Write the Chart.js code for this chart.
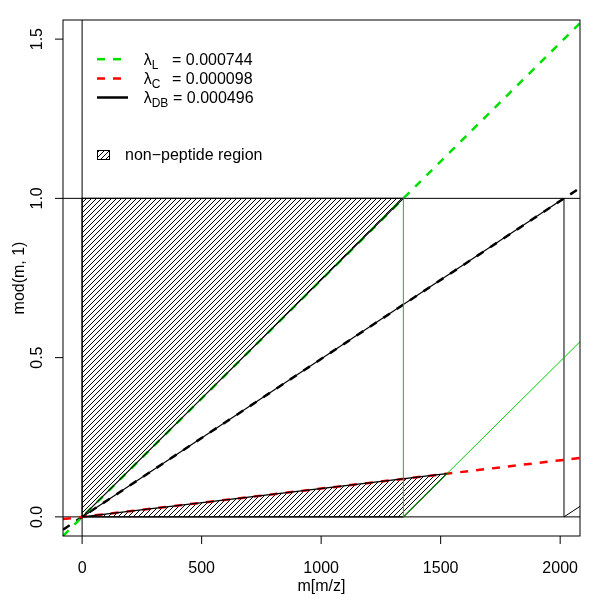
<!DOCTYPE html>
<html>
<head>
<meta charset="utf-8">
<script src="https://cdn.jsdelivr.net/npm/chart.js@4.4.1/dist/chart.umd.min.js"></script>
<style>
  html, body { margin: 0; padding: 0; background: #fff; }
  #wrap { width: 600px; height: 600px; }
</style>
</head>
<body>
<div id="wrap"><canvas id="modChart"></canvas></div>
<script>
var xLimits = [-80, 2083];
var yLimits = [-0.06, 1.56];
var xTicks = [0, 500, 1000, 1500, 2000];
var yTicks = [0, 0.5, 1, 1.5];
var yTickLabels = ['0.0', '0.5', '1.0', '1.5'];

// line end points, [x, y]
var lineL = [[-80, -0.060], [2083, 1.550]];
var lineC = [[-80, -0.007], [2083, 0.185]];
var lineDBdashed = [[-80, -0.040], [2083, 1.033]];
var lineDB = [[0, 0], [2016, 1]];
var dropL = [[1344, 0], [1344, 1]];
var restartL = [[1344, 0], [2083, 0.550]];
var dropDB = [[2016, 0], [2016, 1]];
var restartDB = [[2016, 0], [2083, 0.033]];
var regionUpper = [[0, 0], [0, 1], [1344, 1], [0, 0]];
var regionLower = [[0, 0], [1344, 0], [1526, 0.136], [0, 0]];
var hLines = [0, 1];
var vLines = [0];

var legendSubs = ['L', 'C', 'DB'];
var legendValues = ['0.000744', '0.000098', '0.000496'];
var legendColors = ['#00e000', '#ff0000', '#000000'];
var legendDashed = [true, true, false];

var FONT = '"Liberation Sans", Arial, Helvetica, sans-serif';

function pts(arr) {
    return arr.map(function (p) { return { x: p[0], y: p[1] }; });
}

function makeHatch() {
    var s = 5;
    var c = document.createElement('canvas');
    c.width = s; c.height = s;
    var g = c.getContext('2d');
    g.strokeStyle = '#000';
    g.lineWidth = 1;
    g.beginPath();
    g.moveTo(0, s); g.lineTo(s, 0);
    g.moveTo(-1, 1); g.lineTo(1, -1);
    g.moveTo(s - 1, s + 1); g.lineTo(s + 1, s - 1);
    g.stroke();
    return g.createPattern(c, 'repeat');
}
var hatch = makeHatch();

function seg(arr, color, width, dashed, order) {
    return {
        data: pts(arr),
        showLine: true,
        borderColor: color,
        borderWidth: width,
        borderDash: dashed ? [8, 8] : [],
        pointRadius: 0,
        fill: false,
        tension: 0,
        order: order
    };
}

var datasets = [];
// hatched fills at the bottom
[regionUpper, regionLower].forEach(function (r) {
    datasets.push({
        data: pts(r), showLine: true, borderColor: 'rgba(0,0,0,0)', borderWidth: 0,
        backgroundColor: hatch, fill: 'shape', pointRadius: 0, order: 10
    });
});
hLines.forEach(function (v) {
    datasets.push(seg([[xLimits[0], v], [xLimits[1], v]], '#000', 1, false, 8));
});
vLines.forEach(function (v) {
    datasets.push(seg([[v, yLimits[0]], [v, yLimits[1]]], '#000', 1, false, 8));
});
// dashed lambda lines
datasets.push(seg(lineC, '#ff0000', 2.5, true, 5));
datasets.push(seg(lineL, '#00e000', 2.5, true, 5));
datasets.push(seg(lineDBdashed, '#000', 2.5, true, 5));
// thin lines and region outlines on top
datasets.push(seg(dropL, '#00cc00', 1, false, 1));
datasets.push(seg(restartL, '#00cc00', 1, false, 1));
datasets.push(seg(lineDB, '#000', 1.2, false, 1));
datasets.push(seg(dropDB, '#000', 1, false, 1));
datasets.push(seg(restartDB, '#000', 1, false, 1));
datasets.push(seg(regionUpper, '#000', 1.2, false, 1));
datasets.push(seg(regionLower, '#000', 1.2, false, 1));

var decorations = {
    id: 'decorations',
    afterDraw: function (chart) {
        var ctx = chart.ctx;
        var a = chart.chartArea;
        var xs = chart.scales.x, ys = chart.scales.y;
        ctx.save();
        ctx.strokeStyle = '#000';
        ctx.fillStyle = '#000';
        ctx.lineWidth = 1;
        ctx.setLineDash([]);
        ctx.strokeRect(a.left, a.top, a.right - a.left, a.bottom - a.top);

        ctx.font = '16px ' + FONT;
        ctx.textAlign = 'center';
        ctx.textBaseline = 'alphabetic';
        xTicks.forEach(function (v) {
            var px = xs.getPixelForValue(v);
            ctx.beginPath();
            ctx.moveTo(px, a.bottom);
            ctx.lineTo(px, a.bottom + 8);
            ctx.stroke();
            ctx.fillText(String(v), px, 572.5);
        });
        yTicks.forEach(function (v, i) {
            var py = ys.getPixelForValue(v);
            ctx.beginPath();
            ctx.moveTo(a.left, py);
            ctx.lineTo(a.left - 8, py);
            ctx.stroke();
            ctx.save();
            ctx.translate(42, py);
            ctx.rotate(-Math.PI / 2);
            ctx.fillText(yTickLabels[i], 0, 0);
            ctx.restore();
        });
        ctx.fillText('m[m/z]', (a.left + a.right) / 2, 591);
        ctx.save();
        ctx.translate(24, (a.top + a.bottom) / 2);
        ctx.rotate(-Math.PI / 2);
        ctx.fillText('mod(m, 1)', 0, 0);
        ctx.restore();

        // legend
        ctx.textAlign = 'left';
        var baselines = [64.7, 84, 103];
        legendSubs.forEach(function (sub, i) {
            var b = baselines[i];
            ctx.beginPath();
            ctx.strokeStyle = legendColors[i];
            ctx.lineWidth = 2.5;
            ctx.setLineDash(legendDashed[i] ? [8, 8] : []);
            ctx.moveTo(97, b - 5.5);
            ctx.lineTo(128, b - 5.5);
            ctx.stroke();
            ctx.font = '16px ' + FONT;
            ctx.fillText('\u03bb', 143.7, b);
            var w = ctx.measureText('\u03bb').width;
            ctx.font = '12px ' + FONT;
            ctx.fillText(sub, 143.7 + w, b + 4);
            ctx.font = '16px ' + FONT;
            ctx.fillText('= ' + legendValues[i], sub.length > 1 ? 173 : 172, b);
        });
        ctx.setLineDash([]);
        ctx.strokeStyle = '#000';
        ctx.lineWidth = 1;
        ctx.fillStyle = hatch;
        ctx.fillRect(97.5, 150.5, 12, 9);
        ctx.strokeRect(97.5, 150.5, 12, 9);
        ctx.fillStyle = '#000';
        ctx.font = '16px ' + FONT;
        ctx.fillText('non\u2212peptide region', 125, 160);
        ctx.restore();
    }
};

var ctx = document.getElementById('modChart').getContext('2d');
var modChart = new Chart(ctx, {
    type: 'scatter',
    data: { datasets: datasets },
    options: {
        responsive: true,
        maintainAspectRatio: false,
        animation: false,
        layout: { padding: { left: 63, right: 20, top: 20, bottom: 64 } },
        plugins: { legend: { display: false }, tooltip: { enabled: false } },
        scales: {
            x: { type: 'linear', min: xLimits[0], max: xLimits[1], display: false },
            y: { type: 'linear', min: yLimits[0], max: yLimits[1], display: false }
        }
    },
    plugins: [decorations]
});
</script>
</body>
</html>
